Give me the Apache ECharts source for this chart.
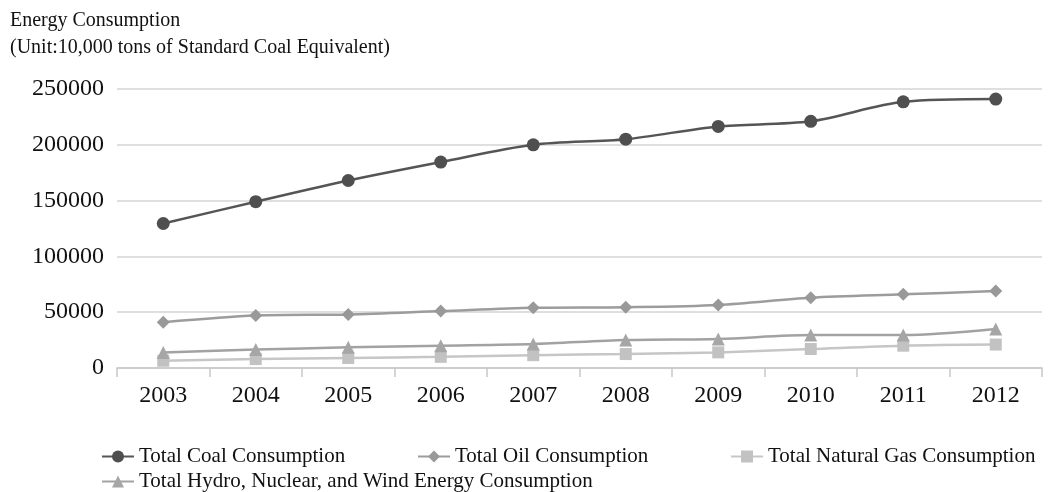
<!DOCTYPE html>
<html>
<head>
<meta charset="utf-8">
<script src="https://cdn.jsdelivr.net/npm/echarts@6/dist/echarts.min.js"></script>
<style>
  html, body { margin: 0; padding: 0; background: #fff; }
  #chart { width: 1052px; height: 492px; }
</style>
</head>
<body>
<div id="chart"></div>
<script>
// Years on the category axis
const years = ['2003', '2004', '2005', '2006', '2007', '2008', '2009', '2010', '2011', '2012'];

// Consumption by source, 10,000 tons of standard coal equivalent
const coal  = [129500, 149000, 168000, 184500, 200000, 205000, 216500, 221000, 238500, 241000];
const oil   = [41000, 47000, 48000, 51000, 54000, 54500, 56500, 63000, 66000, 69000];
const gas   = [6500, 8000, 9000, 10000, 11500, 12500, 14000, 17000, 20000, 21000];
const hydro = [14000, 16500, 18500, 20000, 21500, 25000, 26000, 29500, 29500, 35000];

const seriesNames = [
  'Total Coal Consumption',
  'Total Oil Consumption',
  'Total Natural Gas Consumption',
  'Total Hydro, Nuclear, and Wind Energy Consumption'
];

const serif = '"Liberation Serif", "Times New Roman", serif';

const chart = echarts.init(document.getElementById('chart'), null, { renderer: 'canvas' });

function legendAt(name, left, top) {
  return {
    data: [name],
    left: left,
    top: top,
    padding: 0,
    itemWidth: 32,
    itemHeight: 15,
    itemGap: 8,
    selectedMode: false,
    textStyle: { fontFamily: serif, fontSize: 21, color: '#111' }
  };
}

function lineSeries(name, data, symbol, size, lineColor, markColor, width) {
  return {
    name: name,
    type: 'line',
    data: data,
    smooth: 0.3,
    symbol: symbol,
    symbolSize: size,
    showSymbol: true,
    lineStyle: { color: lineColor, width: width },
    itemStyle: { color: markColor, borderWidth: 0 },
    emphasis: { disabled: true }
  };
}

chart.setOption({
  animation: false,
  backgroundColor: '#fff',
  title: {
    text: 'Energy Consumption\n(Unit:10,000 tons of Standard Coal Equivalent)',
    left: 5,
    top: 2,
    textStyle: { fontFamily: serif, fontSize: 20, fontWeight: 'normal', color: '#111', lineHeight: 27 }
  },
  legend: [
    legendAt(seriesNames[0], 101, 446),
    legendAt(seriesNames[1], 417, 446),
    legendAt(seriesNames[2], 730, 446),
    legendAt(seriesNames[3], 101, 471)
  ],
  grid: { left: 117, right: 10, top: 89, bottom: 124 },
  xAxis: {
    type: 'category',
    data: years,
    boundaryGap: true,
    axisLine: { lineStyle: { color: '#c8c8c8', width: 1.5 } },
    axisTick: { show: true, length: 9, lineStyle: { color: '#c8c8c8', width: 1.5 } },
    axisLabel: { fontFamily: serif, fontSize: 24, color: '#111', margin: 16 }
  },
  yAxis: {
    type: 'value',
    min: 0,
    max: 250000,
    interval: 50000,
    axisLine: { show: false },
    axisTick: { show: false },
    splitLine: { lineStyle: { color: '#d4d4d4', width: 1.5 } },
    axisLabel: {
      fontFamily: serif, fontSize: 24, color: '#111', margin: 13,
      formatter: function (v) { return String(v); }
    }
  },
  series: [
    lineSeries(seriesNames[0], coal, 'circle', 13, '#555555', '#4f4f4f', 2.5),
    lineSeries(seriesNames[1], oil, 'diamond', 13, '#9c9c9c', '#999999', 2.5),
    lineSeries(seriesNames[2], gas, 'rect', 12, '#c6c6c6', '#c2c2c2', 2.5),
    lineSeries(seriesNames[3], hydro, 'triangle', 13, '#a2a2a2', '#a6a6a6', 2.5)
  ]
});
</script>
</body>
</html>
